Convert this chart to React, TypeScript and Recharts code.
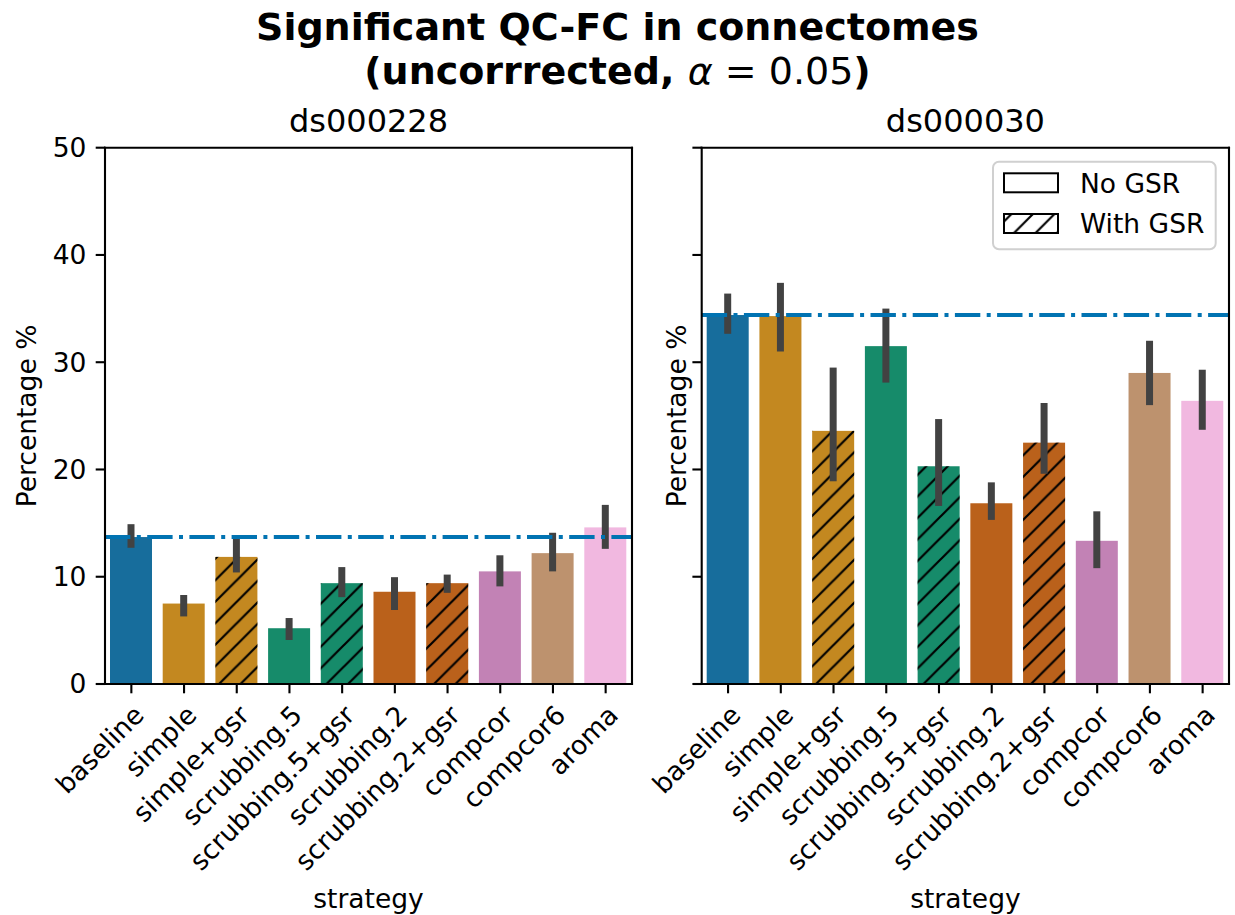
import React from 'react';
import { BarChart, Bar, Line, XAxis, YAxis, ErrorBar, ReferenceLine } from 'recharts';

const CATEGORIES = ['baseline', 'simple', 'simple+gsr', 'scrubbing.5', 'scrubbing.5+gsr', 'scrubbing.2', 'scrubbing.2+gsr', 'compcor', 'compcor6', 'aroma'];

const DS228_VALUES = [13.7, 7.5, 11.85, 5.2, 9.4, 8.6, 9.4, 10.5, 12.2, 14.6];
const DS228_LOW = [12.7, 6.3, 10.4, 4.1, 8.1, 6.9, 8.5, 9.1, 10.5, 12.6];
const DS228_HIGH = [14.9, 8.3, 13.6, 6.15, 10.9, 9.96, 10.2, 12.0, 14.1, 16.7];
const DS228_BASELINE = 13.7;

const DS030_VALUES = [34.4, 34.3, 23.6, 31.5, 20.3, 16.85, 22.5, 13.35, 29.0, 26.4];
const DS030_LOW = [32.65, 31.0, 18.9, 28.1, 16.6, 15.3, 19.6, 10.8, 26.0, 23.7];
const DS030_HIGH = [36.4, 37.4, 29.5, 35.0, 24.7, 18.8, 26.2, 16.1, 32.0, 29.3];
const DS030_BASELINE = 34.4;

const Y_TICKS = [0, 10, 20, 30, 40, 50];

const COLORS = ['#176d9c', '#c38820', '#c38820', '#168b6a', '#168b6a', '#ba611b', '#ba611b', '#c282b5', '#bd926e', '#f1b8e0'];

const FONT = 'DejaVu Sans';
const FS = 26.5;

const build = (vals: number[], lo: number[], hi: number[]) =>
  CATEGORIES.map((c, i) => ({
    strategy: c,
    value: vals[i],
    err: [vals[i] - lo[i], hi[i] - vals[i]],
  }));

const data228 = build(DS228_VALUES, DS228_LOW, DS228_HIGH);
const data030 = build(DS030_VALUES, DS030_LOW, DS030_HIGH);

const BarShape = (props: any) => {
  const { x, y, width, height, payload } = props;
  const idx = CATEGORIES.indexOf(payload.strategy);
  const hatched = payload.strategy.includes('+gsr');
  return (
    <g>
      <rect x={x} y={y} width={width} height={height} fill={COLORS[idx]} />
      {hatched && <rect x={x} y={y} width={width} height={height} fill="url(#hatch)" />}
    </g>
  );
};

const XTick = (props: any) => {
  const { x, y, payload } = props;
  return (
    <text
      transform={`translate(${x},${y}) rotate(-45)`}
      textAnchor="end"
      dy={20}
      fontSize={FS}
      fontFamily={FONT}
      fill="#000"
    >
      {payload.value}
    </text>
  );
};

const EmptyTick = () => <g />;

const axisLine = { stroke: '#000', strokeWidth: 2.1, strokeLinecap: 'square' as const };
const tickLine = { stroke: '#000', strokeWidth: 2.1 };

const Panel = ({ data, baseline, showYLabels, left, width, yAxisWidth, marginRight }: any) => (
  <div style={{ position: 'absolute', left, top: 0 }}>
    <BarChart
      width={width}
      height={915}
      data={data}
      margin={{ top: 146.7, right: marginRight, bottom: 0, left: 0 }}
    >
      <XAxis
        dataKey="strategy"
        height={231}
        interval={0}
        tick={<XTick />}
        tickSize={9.3}
        tickMargin={9.3}
        axisLine={axisLine}
        tickLine={tickLine}
      />
      <XAxis
        xAxisId="top"
        orientation="top"
        dataKey="strategy"
        height={1}
        tick={false}
        tickLine={false}
        axisLine={axisLine}
      />
      <YAxis
        width={yAxisWidth}
        domain={[0, 50]}
        ticks={Y_TICKS}
        allowDataOverflow
        tickSize={9.3}
        tickMargin={9.3}
        axisLine={axisLine}
        tickLine={tickLine}
        tick={showYLabels ? { fontSize: FS, fill: '#000', fontFamily: FONT } : <EmptyTick />}
      />
      <YAxis
        yAxisId="right"
        orientation="right"
        width={1}
        domain={[0, 50]}
        tick={false}
        tickLine={false}
        axisLine={axisLine}
      />
      <Line
        xAxisId="top"
        yAxisId="right"
        dataKey="value"
        stroke="none"
        strokeWidth={0}
        dot={false}
        activeDot={false}
        legendType="none"
        isAnimationActive={false}
      />
      <Bar dataKey="value" barSize={42} shape={<BarShape />} isAnimationActive={false}>
        <ErrorBar dataKey="err" width={0} strokeWidth={7} stroke="#424242" direction="y" />
      </Bar>
      <ReferenceLine
        y={baseline}
        stroke="#0173b2"
        strokeWidth={4}
        strokeDasharray="25.4 6.4 4 6.4"
        ifOverflow="extendDomain"
      />
    </BarChart>
  </div>
);

export default function App() {
  return (
    <div style={{ position: 'absolute', left: 0, top: 0, width: 1235, height: 915, background: '#fff', overflow: 'hidden' }}>
      <Panel data={data228} baseline={DS228_BASELINE} showYLabels left={0} width={660} yAxisWidth={105} marginRight={27} />
      <Panel data={data030} baseline={DS030_BASELINE} showYLabels={false} left={640} width={595} yAxisWidth={61.7} marginRight={5} />
      <svg
        width={1235}
        height={915}
        style={{ position: 'absolute', left: 0, top: 0, pointerEvents: 'none' }}
        fontFamily={FONT}
      >
        <defs>
          <pattern id="hatch" patternUnits="userSpaceOnUse" width={21.5} height={21.5}>
            <path
              d="M0,21.5 L21.5,0 M-5.4,5.4 L5.4,-5.4 M16.1,26.9 L26.9,16.1"
              stroke="#000"
              strokeWidth={2.2}
            />
          </pattern>
        </defs>
        <text x={617.5} y={40} textAnchor="middle" fontWeight="bold" fontSize={38} fill="#000">
          Significant QC-FC in connectomes
        </text>
        <text x={617.5} y={84} textAnchor="middle" fontSize={38} fill="#000">
          <tspan fontWeight="bold">(uncorrrected, </tspan>
          <tspan fontStyle="italic">α</tspan>
          <tspan> = 0.05</tspan>
          <tspan fontWeight="bold">)</tspan>
        </text>
        <text x={368.5} y={131.7} textAnchor="middle" fontSize={32} fill="#000">ds000228</text>
        <text x={965.4} y={131.7} textAnchor="middle" fontSize={32} fill="#000">ds000030</text>
        <text transform="translate(36,416) rotate(-90)" textAnchor="middle" fontSize={FS} fill="#000">Percentage %</text>
        <text transform="translate(686,416) rotate(-90)" textAnchor="middle" fontSize={FS} fill="#000">Percentage %</text>
        <text x={368.5} y={908} textAnchor="middle" fontSize={FS} fill="#000">strategy</text>
        <text x={965.4} y={908} textAnchor="middle" fontSize={FS} fill="#000">strategy</text>
        <rect x={993} y={161.7} width={222.7} height={87.6} rx={6} fill="#fff" fillOpacity={0.85} stroke="#d0d0d0" strokeWidth={2} />
        <rect x={1004} y={173.3} width={54} height={19} fill="#fff" stroke="#000" strokeWidth={2} />
        <rect x={1004} y={214} width={54} height={19} fill="#fff" />
        <rect x={1004} y={214} width={54} height={19} fill="url(#hatch)" stroke="#000" strokeWidth={2} />
        <text x={1080} y={192.5} fontSize={FS} fill="#000">No GSR</text>
        <text x={1080} y={233} fontSize={FS} fill="#000">With GSR</text>
      </svg>
    </div>
  );
}
